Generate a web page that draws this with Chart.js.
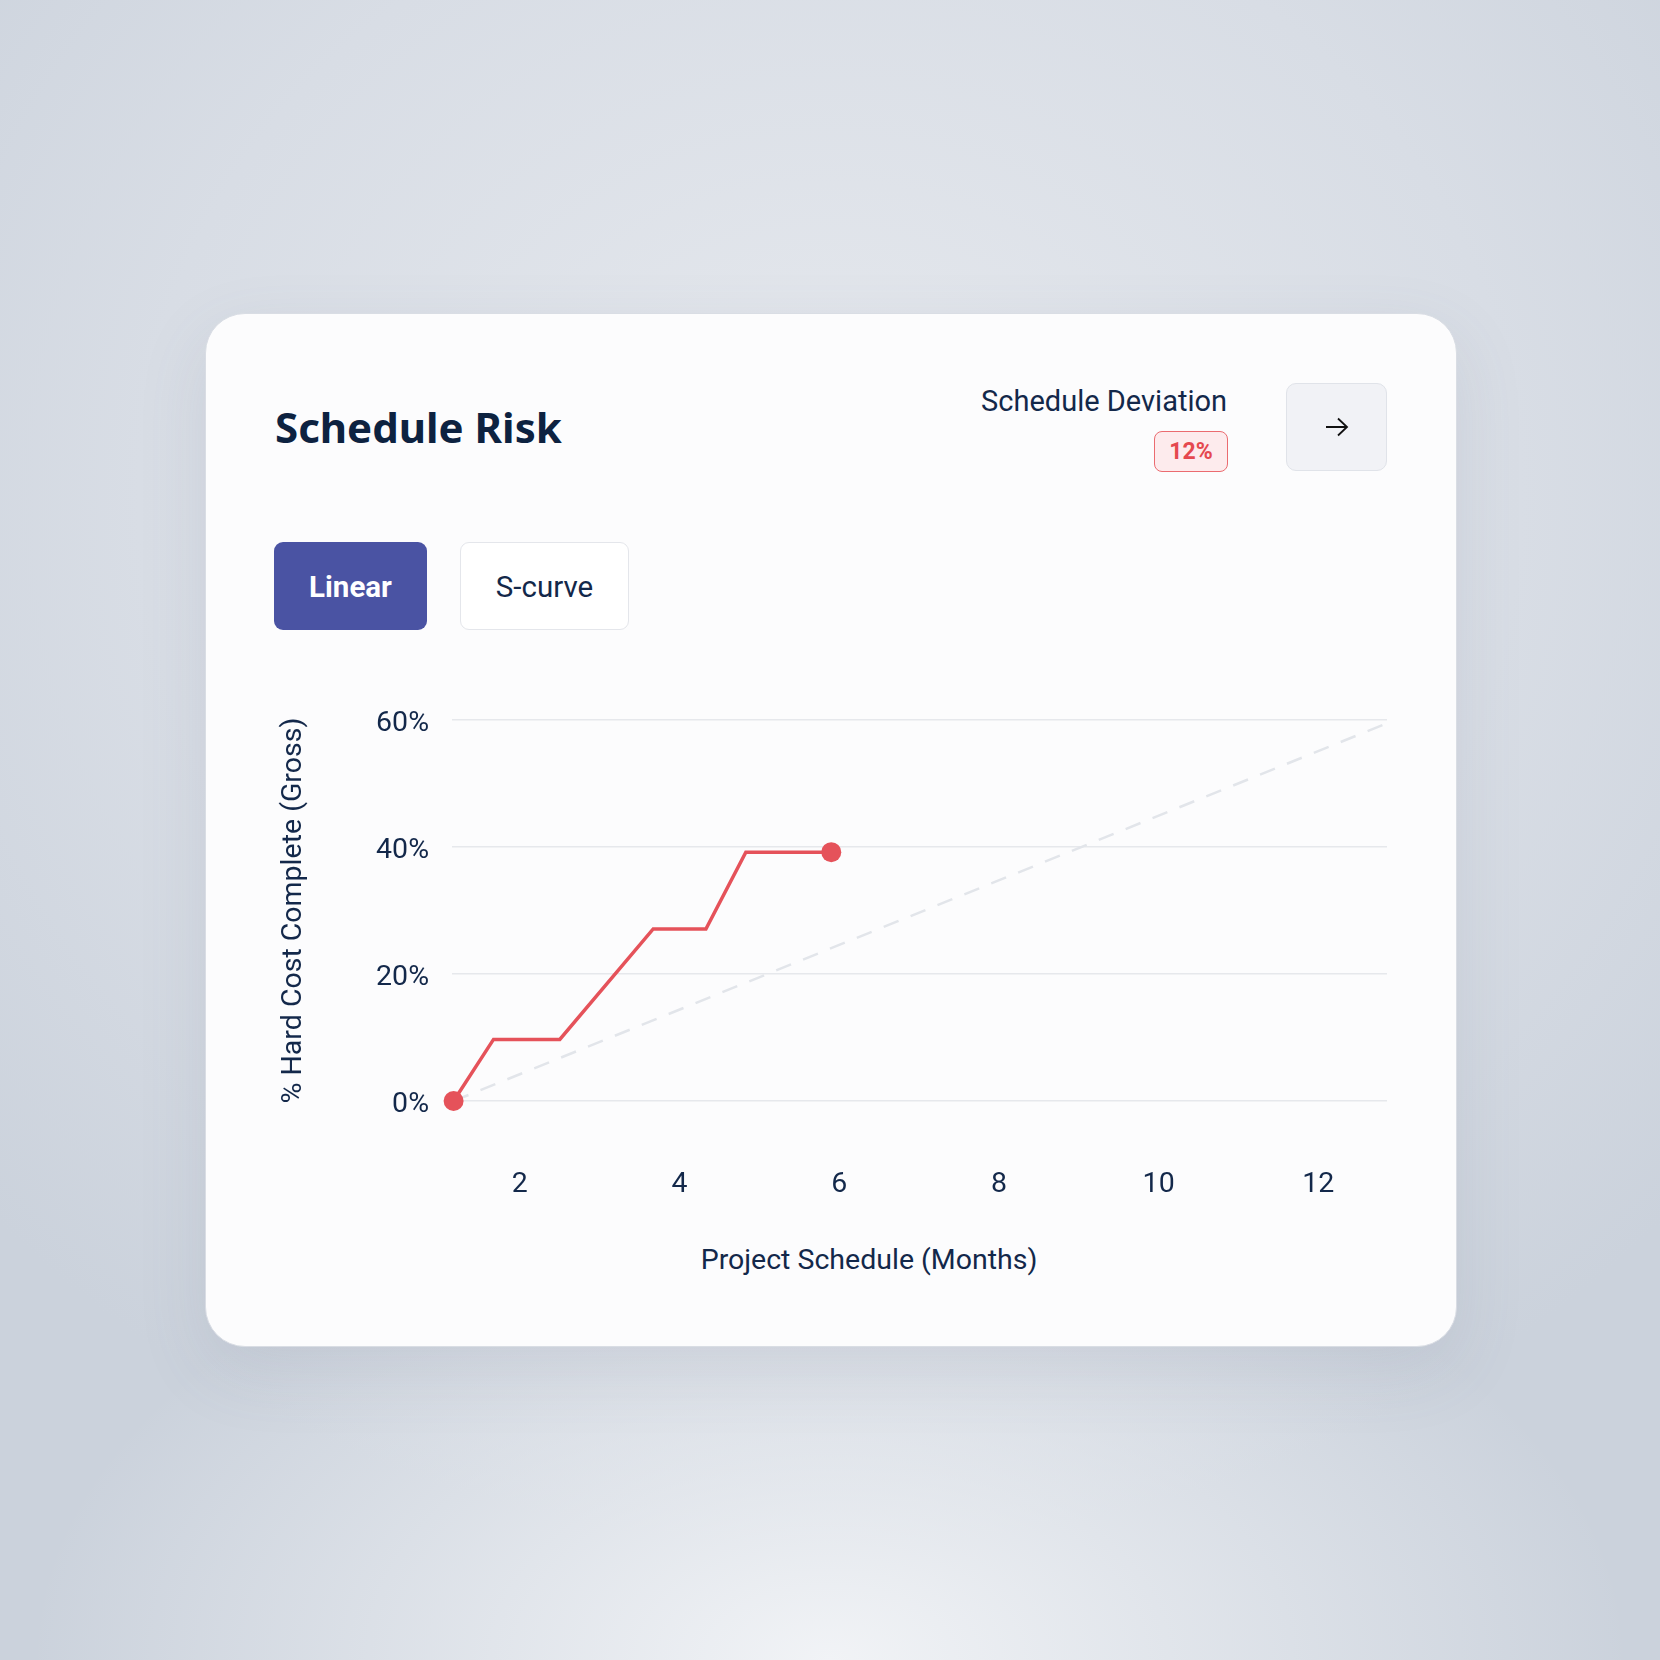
<!DOCTYPE html>
<html>
<head>
<meta charset="utf-8">
<script src="https://cdn.jsdelivr.net/npm/chart.js@4.4.1/dist/chart.umd.min.js"></script>
<style>
  html, body { margin: 0; padding: 0; }
  body {
    width: 1660px; height: 1660px; position: relative; overflow: hidden;
    font-family: Roboto, "Noto Sans", sans-serif; color: #0f2447;
    background:
      radial-gradient(ellipse 800px 480px at 50% 100%, #f1f3f6 0%, rgba(241,243,246,0) 100%),
      radial-gradient(ellipse 1150px 1050px at 50% 30%, #e6e9ee 0%, #d8dde5 60%, #cbd2dc 100%);
  }
  .card {
    position: absolute; left: 205px; top: 313px; width: 1250px; height: 1032px;
    background: #fcfcfd; border: 1px solid #d9dde4; border-radius: 40px;
    box-shadow: 0 24px 70px rgba(90, 100, 125, 0.12);
  }
  .abs { position: absolute; line-height: 1; white-space: nowrap; }
  .title { left: 275px; top: 406px; font-family: "Noto Sans", Roboto, sans-serif; font-size: 42px; font-weight: 700; color: #0d2240; }
  .devLabel { right: 433px; top: 387px; font-size: 29px; color: #13284a; }
  .badge {
    left: 1154px; top: 431px; width: 72px; height: 39px; border-radius: 8px;
    background: #fdebed; border: 1px solid #eb6b70; color: #e5484f;
    font-size: 23px; font-weight: 700; display: flex; align-items: center; justify-content: center;
  }
  .arrowBtn {
    left: 1286px; top: 383px; width: 99px; height: 86px; border-radius: 10px;
    background: #f1f2f6; border: 1px solid #e0e3e9;
    display: flex; align-items: center; justify-content: center;
  }
  .btn {
    top: 542px; height: 88px; border-radius: 9px; font-size: 29.5px; padding-top: 3px;
    display: flex; align-items: center; justify-content: center; box-sizing: border-box;
  }
  .linear { left: 274px; width: 153px; background: #4a53a3; color: #fff; font-weight: 700; }
  .scurve { left: 460px; width: 169px; background: #fff; border: 1.5px solid #e4e6eb; color: #13284a; }
  .xTitle { left: 869px; top: 1246px; transform: translateX(-50%); font-size: 28.5px; color: #13284a; }
  #chartBox { position: absolute; left: 260px; top: 680px; width: 1140px; height: 560px; }
</style>
</head>
<body>
<div class="card"></div>
<div class="abs title">Schedule Risk</div>
<div class="abs devLabel">Schedule Deviation</div>
<div class="abs badge">12%</div>
<div class="abs arrowBtn">
  <svg width="24" height="20" viewBox="0 0 24 20"><path d="M1 10 H22 M13 1.5 L22 10 L13 18.5" fill="none" stroke="#111" stroke-width="1.8"/></svg>
</div>
<div class="abs btn linear">Linear</div>
<div class="abs btn scurve">S-curve</div>
<div id="chartBox"><canvas id="chart"></canvas></div>
<div class="abs xTitle">Project Schedule (Months)</div>

<script>
// actual progress (x = month, y = % complete)
const actualMonths = [1.17, 1.67, 2.5, 3.67, 4.33, 4.83, 5.9];
const actualPct = [0, 9.7, 9.7, 27.1, 27.1, 39.2, 39.2];

// linear plan reference line
const planMonths = [1.17, 12.86];
const planPct = [0, 59.5];

const yTicks = [0, 20, 40, 60];

const textColor = '#13284a';
const tickFont = { family: 'Roboto, "Noto Sans", sans-serif', size: 28.5 };

const ctx = document.getElementById('chart').getContext('2d');

new Chart(ctx, {
  type: 'line',
  data: {
    datasets: [
      {
        label: 'Actual',
        data: actualMonths.map((m, i) => ({ x: m, y: actualPct[i] })),
        borderColor: '#e5525a',
        backgroundColor: '#e5525a',
        borderWidth: 3.5,
        tension: 0,
        clip: false,
        pointRadius: actualMonths.map((m, i) => (i === 0 || i === actualMonths.length - 1 ? 10 : 0)),
        pointBorderWidth: 0,
      },
      {
        label: 'Linear plan',
        data: planMonths.map((m, i) => ({ x: m, y: planPct[i] })),
        borderColor: '#e2e5ea',
        borderWidth: 2.5,
        borderDash: [16, 13],
        pointRadius: 0,
        tension: 0,
      },
    ],
  },
  options: {
    responsive: true,
    maintainAspectRatio: false,
    animation: false,
    layout: { padding: { top: 39, right: 13, left: 0, bottom: 0 } },
    plugins: {
      legend: { display: false },
      tooltip: { enabled: false },
    },
    scales: {
      x: {
        type: 'linear',
        min: 1.15,
        max: 12.86,
        grid: { display: false },
        border: { display: false },
        ticks: {
          stepSize: 2,
          includeBounds: false,
          padding: 59,
          color: textColor,
          font: tickFont,
        },
        afterFit: (scale) => { scale.height = 139; },
      },
      y: {
        min: 0,
        max: 60,
        grid: { color: '#e6e8ec', lineWidth: 1.5, drawTicks: false },
        border: { display: false },
        afterBuildTicks: (scale) => { scale.ticks = yTicks.map(v => ({ value: v })); },
        ticks: {
          padding: 23,
          labelOffset: 4,
          color: textColor,
          font: tickFont,
          callback: (v) => v + '%',
        },
        title: {
          display: true,
          text: '% Hard Cost Complete (Gross)',
          color: textColor,
          font: { family: 'Roboto, "Noto Sans", sans-serif', size: 28.5 },
          padding: { top: 17, bottom: 0 },
        },
        afterFit: (scale) => { scale.width = 192; },
      },
    },
  },
});
</script>
</body>
</html>
